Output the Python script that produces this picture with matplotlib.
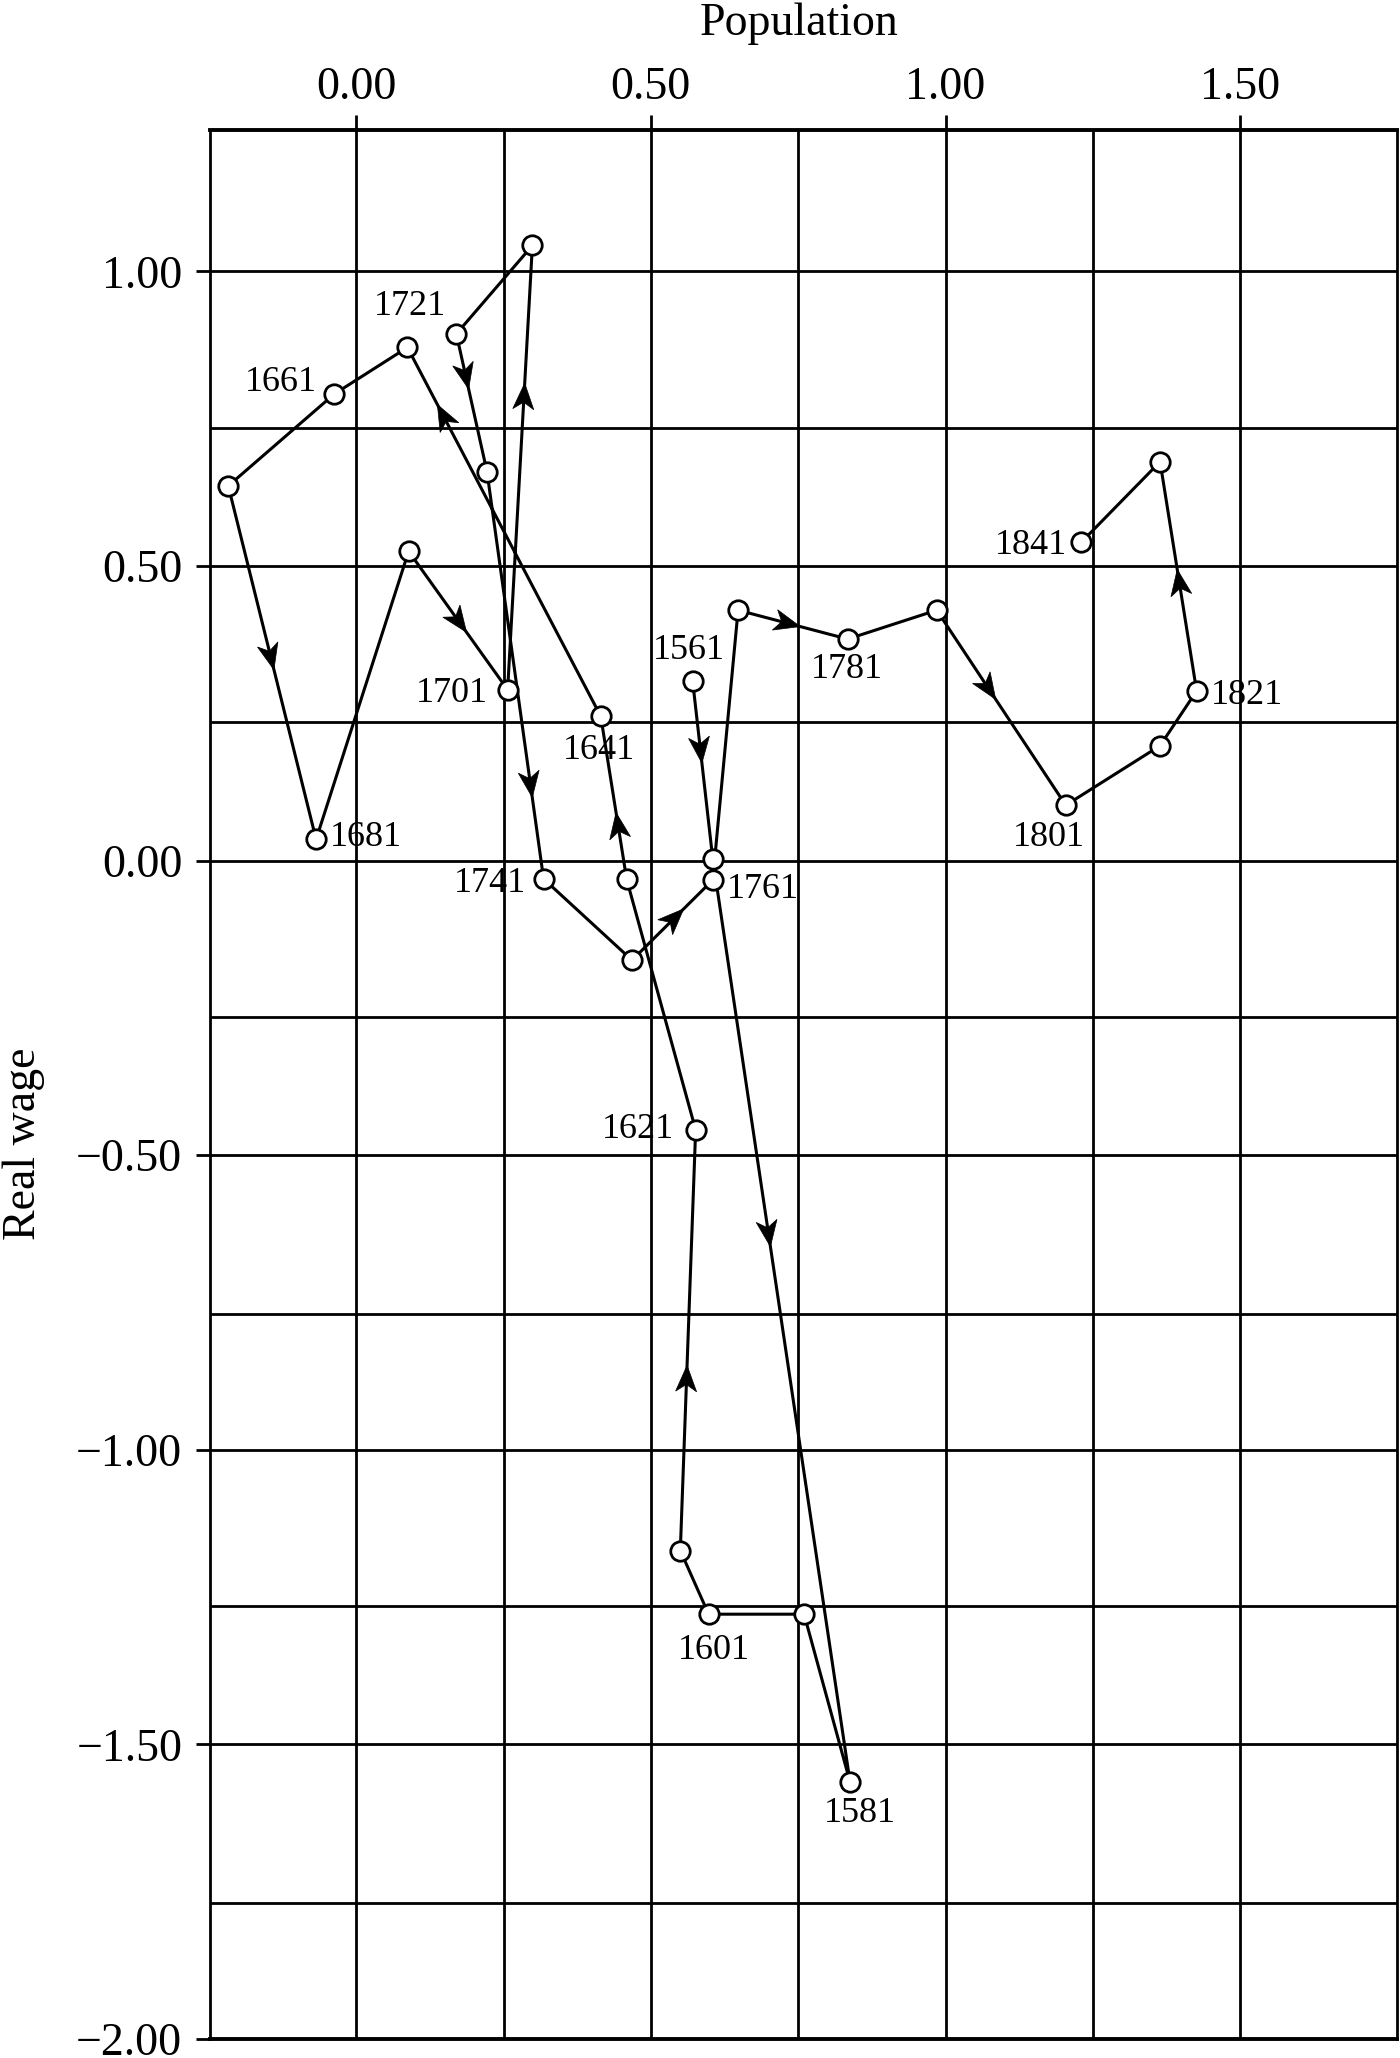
import numpy as np
import matplotlib
matplotlib.use("Agg")
import matplotlib.pyplot as plt
from matplotlib.patches import Polygon
from matplotlib.ticker import FuncFormatter

plt.rcParams['font.family'] = ['Liberation Serif', 'DejaVu Serif']

years = [1561, 1571, 1581, 1591, 1601, 1611, 1621, 1631, 1641, 1651,
         1661, 1671, 1681, 1691, 1701, 1711, 1721, 1731, 1741, 1751,
         1761, 1771, 1781, 1791, 1801, 1811, 1821, 1831, 1841]
population = [0.571, 0.605, 0.838, 0.760, 0.598, 0.550, 0.576, 0.459, 0.415, 0.087,
              -0.037, -0.217, -0.068, 0.089, 0.257, 0.299, 0.170, 0.222, 0.318, 0.468,
              0.605, 0.648, 0.834, 0.985, 1.204, 1.364, 1.426, 1.364, 1.230]
real_wage = [0.304, 0.003, -1.564, -1.279, -1.279, -1.171, -0.457, -0.032, 0.245, 0.871,
             0.792, 0.636, 0.036, 0.525, 0.290, 1.044, 0.894, 0.660, -0.031, -0.169,
             -0.033, 0.425, 0.376, 0.425, 0.094, 0.195, 0.288, 0.677, 0.540]

# which points carry a year label: (dx px, dy px, horizontal alignment)
label_pos = {
    1561: (-4, 31, 'center'), 1581: (10, -31, 'center'), 1601: (5, -36, 'center'),
    1621: (-22, 0, 'right'), 1641: (-2, -34, 'center'), 1661: (-17, 11, 'right'),
    1681: (14, 2, 'left'), 1701: (-20, -4, 'right'), 1721: (-10, 27, 'right'),
    1741: (-18, -5, 'right'), 1761: (14, -9, 'left'), 1781: (-1, -30, 'center'),
    1801: (-17, -32, 'center'), 1821: (14, -5, 'left'), 1841: (-14, -3, 'right'),
}

# direction arrows: segment start year -> fraction along segment where the tip sits
arrow_at = {1561: 0.46, 1571: 0.42, 1611: 0.44, 1631: 0.41, 1641: 0.845,
            1671: 0.52, 1691: 0.585, 1701: 0.69, 1721: 0.40, 1731: 0.80,
            1751: 0.64, 1771: 0.566, 1791: 0.457, 1821: 0.53}

x_major = [0.0, 0.5, 1.0, 1.5]
x_minor = [0.25, 0.75, 1.25]
y_major = [1.0, 0.5, 0.0, -0.5, -1.0, -1.5, -2.0]
y_minor = [0.735, 0.235, -0.265, -0.77, -1.265, -1.77]

fig = plt.figure(figsize=(14, 20.58), dpi=100)
ax = fig.add_axes([210/1400, 19/2058, 1187/1400, 1909/2058])
ax.set_xlim(-0.248, 1.766)
ax.set_ylim(-2.0, 1.24)

fmt = FuncFormatter(lambda v, _: f"{v:.2f}".replace("-", "\u2212"))
ax.xaxis.tick_top()
ax.set_xticks(x_major)
ax.set_xticks(x_minor, minor=True)
ax.set_yticks(y_major)
ax.set_yticks(y_minor, minor=True)
ax.xaxis.set_major_formatter(fmt)
ax.yaxis.set_major_formatter(fmt)
ax.tick_params(axis='x', which='major', length=11, width=2, pad=4, labelsize=33)
ax.tick_params(axis='y', which='major', length=10, width=2, pad=10, labelsize=33)
ax.tick_params(which='minor', length=0)
ax.grid(which='both', color='k', lw=2.0)
ax.set_axisbelow(True)
for s in ('top', 'bottom'):
    ax.spines[s].set_linewidth(2.8)
for s in ('left', 'right'):
    ax.spines[s].set_linewidth(2.0)

ax.xaxis.set_label_position('top')
ax.set_xlabel('Population', fontsize=33)
ax.xaxis.label.set_va('center')
ax.xaxis.set_label_coords(0.496, 1.0555)
ax.set_ylabel('Real wage', fontsize=33)
ax.yaxis.label.set_va('center')
ax.yaxis.set_label_coords(-0.157, 0.469)

ax.plot(population, real_wage, color='k', lw=2.2, zorder=3)
ax.plot(population, real_wage, 'o', ms=14, mfc='white', mec='k', mew=2.0, zorder=4)

# notched arrowheads built in pixel space
fig.canvas.draw()
to_px = ax.transData
to_data = ax.transData.inverted()
L, W, N = 26, 10.5, 7
for i, yr in enumerate(years[:-1]):
    if yr not in arrow_at:
        continue
    t = arrow_at[yr]
    p0 = to_px.transform((population[i], real_wage[i]))
    p1 = to_px.transform((population[i+1], real_wage[i+1]))
    d = (p1 - p0) / np.hypot(*(p1 - p0))
    n = np.array([-d[1], d[0]])
    tip = p0 + t * (p1 - p0)
    pts = [tip, tip - L*d + W*n, tip - (L - N)*d, tip - L*d - W*n]
    ax.add_patch(Polygon(to_data.transform(pts), closed=True, fc='k', ec='k',
                         lw=0.5, zorder=5))

for i, yr in enumerate(years):
    if yr in label_pos:
        dx, dy, ha = label_pos[yr]
        ax.annotate(str(yr), (population[i], real_wage[i]), xytext=(dx, dy),
                    textcoords='offset pixels', ha=ha, va='center', fontsize=26,
                    zorder=6)

fig.savefig('out.png', dpi=100)
